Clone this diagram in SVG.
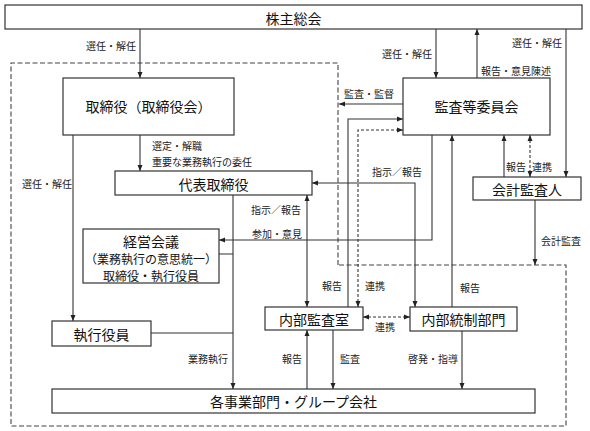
<svg xmlns="http://www.w3.org/2000/svg" width="590" height="431" viewBox="0 0 590 431">
<style>
.box{fill:#fff;stroke:#333;stroke-width:1.2}
.t{font-family:"Noto Sans CJK JP","Noto Sans CJK SC",sans-serif;font-size:14px;fill:#111;text-anchor:middle;dominant-baseline:central}
.t2{font-family:"Noto Sans CJK JP","Noto Sans CJK SC",sans-serif;font-size:12px;fill:#111;text-anchor:middle;dominant-baseline:central}
.l{font-family:"Noto Sans CJK JP","Noto Sans CJK SC",sans-serif;font-size:10px;fill:#222;dominant-baseline:central}
.e{text-anchor:end}
.c{fill:none;stroke:#333;stroke-width:1.1}
.d{fill:none;stroke:#333;stroke-width:1.1;stroke-dasharray:3,2}
.bd{fill:none;stroke:#444;stroke-width:1.1;stroke-dasharray:5,2.5}
</style>
<defs>
<marker id="a" markerUnits="userSpaceOnUse" markerWidth="7" markerHeight="6" refX="6" refY="3" orient="auto-start-reverse">
<path d="M0,0.5 L6,3 L0,5.5 Z" fill="#222"/>
</marker>
</defs>
<rect width="590" height="431" fill="#fff"/>
<path class="bd" d="M338,265 V63 H11 V426 H566 V265 Z"/>
<g id="connectors">
<path class="c" d="M140,29 V78" marker-end="url(#a)"/>
<path class="c" d="M436,29 V78" marker-end="url(#a)"/>
<path class="c" d="M477,78 V29" marker-end="url(#a)"/>
<path class="c" d="M566,29 V177" marker-end="url(#a)"/>
<path class="c" d="M140,135 V171" marker-end="url(#a)"/>
<path class="c" d="M73,135 V321" marker-end="url(#a)"/>
<path class="c" d="M403,104 H339" marker-end="url(#a)"/>
<path class="c" d="M348,307 V119 H403" marker-end="url(#a)"/>
<path class="d" d="M358,307 V130 H403" marker-start="url(#a)" marker-end="url(#a)"/>
<path class="c" d="M312,183 H415 V307" marker-start="url(#a)" marker-end="url(#a)"/>
<path class="c" d="M432,135 V240 H219" marker-end="url(#a)"/>
<path class="c" d="M452,307 V135" marker-end="url(#a)"/>
<path class="c" d="M504,177 V135" marker-end="url(#a)"/>
<path class="d" d="M530,135 V177" marker-start="url(#a)" marker-end="url(#a)"/>
<path class="c" d="M535,200 V265" marker-end="url(#a)"/>
<path class="c" d="M307,195 V307" marker-start="url(#a)" marker-end="url(#a)"/>
<path class="d" d="M363,317 H410" marker-start="url(#a)" marker-end="url(#a)"/>
<path class="c" d="M333,330 V389" marker-end="url(#a)"/>
<path class="c" d="M307,389 V330" marker-end="url(#a)"/>
<path class="c" d="M462,331 V389" marker-end="url(#a)"/>
<path class="c" d="M233,195 V389" marker-end="url(#a)"/>
<path class="c" d="M219,254 H233 M151,333 H233"/>
</g>
<g id="labels">
<text class="l e" x="136" y="45">選任・解任</text>
<text class="l e" x="432" y="53">選任・解任</text>
<text class="l" x="481" y="70">報告・意見陳述</text>
<text class="l e" x="562" y="42">選任・解任</text>
<text class="l" x="344" y="93">監査・監督</text>
<text class="l" x="152" y="145">選定・解職</text>
<text class="l" x="152" y="161">重要な業務執行の委任</text>
<text class="l" x="22" y="183">選任・解任</text>
<text class="l" x="372" y="171">指示／報告</text>
<text class="l" x="506" y="166">報告</text>
<text class="l" x="532" y="166">連携</text>
<text class="l" x="251" y="209">指示／報告</text>
<text class="l" x="252" y="233">参加・意見</text>
<text class="l" x="541" y="240">会計監査</text>
<text class="l" x="322" y="285">報告</text>
<text class="l" x="365" y="285">連携</text>
<text class="l" x="460" y="287">報告</text>
<text class="l" x="375" y="326">連携</text>
<text class="l e" x="228" y="358">業務執行</text>
<text class="l e" x="302" y="358">報告</text>
<text class="l" x="340" y="358">監査</text>
<text class="l e" x="458" y="358">啓発・指導</text>
</g>
<g id="n-shareholders"><rect class="box" x="5" y="5" width="577" height="24"/><text class="t" x="293.5" y="17.5">株主総会</text></g>
<g id="n-board"><rect class="box" x="63" y="78" width="171" height="57"/><text class="t" x="148.5" y="106">取締役（取締役会）</text></g>
<g id="n-audit-committee"><rect class="box" x="403" y="78" width="147" height="57"/><text class="t" x="476.5" y="106">監査等委員会</text></g>
<g id="n-representative"><rect class="box" x="115" y="171" width="197" height="24"/><text class="t" x="213.5" y="183.5">代表取締役</text></g>
<g id="n-accounting-auditor"><rect class="box" x="473" y="177" width="108" height="23"/><text class="t" x="527" y="189">会計監査人</text></g>
<g id="n-management-meeting"><rect class="box" x="83" y="229" width="136" height="54"/><text class="t" x="151" y="240.5">経営会議</text><text class="t2" x="151" y="258.5">（業務執行の意思統一）</text><text class="t2" x="151" y="275">取締役・執行役員</text></g>
<g id="n-internal-audit"><rect class="box" x="265" y="307" width="98" height="23"/><text class="t" x="314" y="318.5">内部監査室</text></g>
<g id="n-internal-control"><rect class="box" x="410" y="307" width="107" height="24"/><text class="t" x="463.5" y="319">内部統制部門</text></g>
<g id="n-executive-officers"><rect class="box" x="52" y="321" width="99" height="25"/><text class="t" x="101.5" y="333.5">執行役員</text></g>
<g id="n-business-units"><rect class="box" x="52" y="389" width="483" height="24"/><text class="t" x="293.5" y="401">各事業部門・グループ会社</text></g>
</svg>
